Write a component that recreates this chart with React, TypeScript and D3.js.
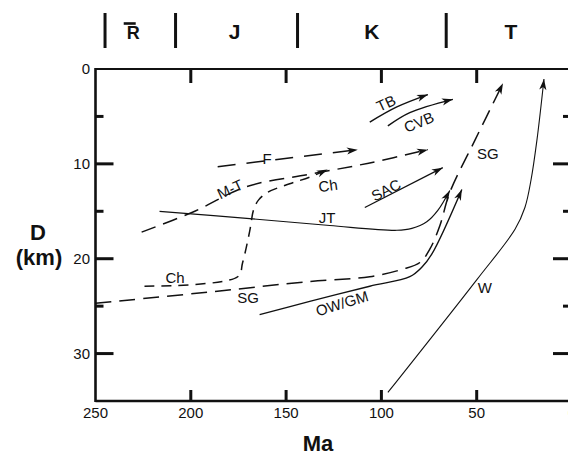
import React from "react";
import * as d3 from "d3";

// ---- data ----
const xTickValues = [250, 200, 150, 100, 50, 0];
const xInnerTicks = [200, 150, 100, 50];
const yMajorTicks = [10, 20, 30];
const yMinorTicks = [5, 15, 25];
const yLabelTicks = [0, 10, 20, 30];

const periodBounds = [245, 208, 144, 66];
const periodNames = ["TR", "J", "K", "T"];
const periodCenters = [231, 177, 105, 32];

type P = [number, number]; // [Ma, depth km]
const seriesF: P[] = [[185.9, 10.3], [112.4, 8.5]];
const seriesMT: P[] = [[225.8, 17.2], [199.1, 15.1], [170.7, 12.4], [137.6, 11.1], [106.1, 9.9], [75.6, 8.5]];
const seriesCh: P[] = [[224.3, 22.9], [175.4, 21.9], [172.8, 20.4], [169.1, 17.1], [167.0, 14.8], [164.4, 13.8], [159.7, 13.0], [148.1, 12.1], [137.6, 11.4], [128.2, 10.6]];
const seriesTB: P[] = [[106.1, 5.6], [91.9, 4.0], [75.6, 2.7]];
const seriesCVB: P[] = [[96.6, 6.0], [85.1, 4.6], [62.5, 3.2]];
const seriesSAC: P[] = [[108.7, 14.6], [67.8, 10.4]];
const seriesJT: P[] = [[216.4, 15.0], [167.5, 15.8], [127.1, 16.5], [91.9, 17.0], [84.0, 16.8], [76.2, 16.1], [70.4, 14.9], [64.1, 12.8]];
const seriesSG: P[] = [[250, 24.7], [184.9, 23.4], [137.6, 22.4], [106.1, 21.9], [88.8, 21.1], [79.8, 20.4], [74.6, 19.0], [69.3, 16.5], [64.1, 13.0], [50.9, 7.5], [36.2, 1.5]];
const seriesOWGM: P[] = [[163.9, 25.9], [137.6, 24.5], [106.1, 22.9], [85.1, 21.9], [78.8, 20.9], [73.5, 19.5], [57.8, 12.7]];
const seriesW: P[] = [[96.6, 34.1], [49.9, 22.2], [29.9, 16.9], [24.7, 14.6], [21.5, 11.7], [18.4, 7.5], [14.7, 1.05]];

const labelTexts = ["TB", "CVB", "F", "M-T", "Ch", "JT", "SAC", "SG", "Ch", "SG", "OW/GM", "W"];
const labelMa = [97.6, 80.3, 160, 179.4, 128, 128.5, 97.6, 44.1, 208.3, 170, 120.7, 45.7];
const labelD = [3.6, 5.6, 9.4, 12.65, 12.3, 15.7, 12.75, 8.96, 22.0, 24.1, 24.7, 23.0];
const labelRot = [-25, -23, 0, -25, -8, 0, -27, 0, 0, 0, -17, 0];

const FONT = "'Liberation Sans', Arial, Helvetica, sans-serif";

export default function App() {
  const W = 568, H = 455;
  const x = d3.scaleLinear().domain([250, 0]).range([95.5, 572]);
  const y = d3.scaleLinear().domain([0, 35]).range([69, 401]);

  const line = d3
    .line<P>()
    .x((d) => x(d[0]))
    .y((d) => y(d[1]))
    .curve(d3.curveCatmullRom.alpha(0.5));

  const curves: { data: P[]; dash?: string; w: number }[] = [
    { data: seriesF, dash: "18,11", w: 1.5 },
    { data: seriesMT, dash: "15,8", w: 1.5 },
    { data: seriesCh, dash: "10,7", w: 1.5 },
    { data: seriesTB, w: 1.5 },
    { data: seriesCVB, w: 1.5 },
    { data: seriesSAC, w: 1.3 },
    { data: seriesJT, w: 1.2 },
    { data: seriesSG, dash: "16,8", w: 1.5 },
    { data: seriesOWGM, w: 1.4 },
    { data: seriesW, w: 1.1 },
  ];

  const x0 = x(250), x1 = 572, yTop = y(0), yBot = y(35);

  return (
    <svg
      width={W}
      height={H}
      style={{ position: "absolute", left: 0, top: 0, background: "#fff" }}
      fontFamily={FONT}
    >
      <defs>
        <marker
          id="arr"
          viewBox="-12 -6 14 12"
          markerWidth={14}
          markerHeight={12}
          refX={0}
          refY={0}
          orient="auto"
          markerUnits="userSpaceOnUse"
        >
          <path d="M-11,-3.6 L0,0 L-11,3.6 L-8,0 Z" fill="#111" />
        </marker>
      </defs>
      <rect width={W} height={H} fill="#fff" />

      {/* period bars */}
      {periodBounds.map((b, i) => (
        <line key={"pb" + i} x1={x(b)} x2={x(b)} y1={13} y2={48} stroke="#111" strokeWidth={3} />
      ))}
      {periodNames.map((n, i) =>
        n === "TR" ? (
          <g key={"pn" + i}>
            <text x={x(periodCenters[i]) - 5} y={39} fontSize={18} fontWeight="bold" fill="#111">
              R
            </text>
            <line
              x1={x(periodCenters[i]) - 8}
              x2={x(periodCenters[i]) + 4}
              y1={23.5}
              y2={23.5}
              stroke="#111"
              strokeWidth={2.6}
            />
          </g>
        ) : (
          <text key={"pn" + i} x={x(periodCenters[i])} y={39} fontSize={21} fontWeight="bold" textAnchor="middle" fill="#111">
            {n}
          </text>
        )
      )}

      {/* frame */}
      <line x1={x0} x2={x1} y1={yTop} y2={yTop} stroke="#111" strokeWidth={2.2} />
      <line x1={x0} x2={x1} y1={yBot} y2={yBot} stroke="#111" strokeWidth={2.5} />
      <line x1={x0} x2={x0} y1={yTop - 1} y2={yBot + 1} stroke="#111" strokeWidth={2.6} />
      <line x1={x1} x2={x1} y1={yTop} y2={yBot} stroke="#111" strokeWidth={2.6} />

      {/* left & right ticks */}
      {yMajorTicks.map((t) => (
        <g key={"ym" + t}>
          <line x1={x0} x2={x0 + 18} y1={y(t)} y2={y(t)} stroke="#111" strokeWidth={3} />
          <line x1={x1 - 19} x2={x1} y1={y(t)} y2={y(t)} stroke="#111" strokeWidth={3} />
        </g>
      ))}
      {yMinorTicks.map((t) => (
        <g key={"yn" + t}>
          <line x1={x0} x2={x0 + 8} y1={y(t)} y2={y(t)} stroke="#111" strokeWidth={3} />
          <line x1={x1 - 9} x2={x1} y1={y(t)} y2={y(t)} stroke="#111" strokeWidth={3} />
        </g>
      ))}
      {yLabelTicks.map((t) => (
        <text key={"yl" + t} x={90} y={y(t)} dy="0.36em" fontSize={15} textAnchor="end" fill="#111">
          {t}
        </text>
      ))}

      {/* top & bottom ticks */}
      {xInnerTicks.map((t) => (
        <g key={"xt" + t}>
          <line x1={x(t)} x2={x(t)} y1={yTop} y2={yTop + 14} stroke="#111" strokeWidth={3} />
          <line x1={x(t)} x2={x(t)} y1={yBot} y2={yBot - 11} stroke="#111" strokeWidth={3} />
        </g>
      ))}
      {xTickValues.map((t) => (
        <text key={"xl" + t} x={x(t)} y={418} fontSize={15} textAnchor="middle" fill="#111">
          {t}
        </text>
      ))}

      {/* axis titles */}
      <text x={38} y={240} fontSize={22} fontWeight="bold" textAnchor="middle" fill="#111">D</text>
      <text x={39} y={265} fontSize={22} fontWeight="bold" textAnchor="middle" fill="#111">(km)</text>
      <text x={318} y={451} fontSize={22} fontWeight="bold" textAnchor="middle" fill="#111">Ma</text>

      {/* curves */}
      {curves.map((c, i) => (
        <path
          key={"c" + i}
          d={line(c.data) || ""}
          fill="none"
          stroke="#111"
          strokeWidth={c.w}
          strokeDasharray={c.dash}
          markerEnd="url(#arr)"
        />
      ))}

      {/* curve labels */}
      {labelTexts.map((t, i) => (
        <text
          key={"lt" + i}
          transform={`translate(${x(labelMa[i])},${y(labelD[i])}) rotate(${labelRot[i]})`}
          dy="0.36em"
          fontSize={15}
          textAnchor="middle"
          fill="#111"
        >
          {t}
        </text>
      ))}
    </svg>
  );
}
